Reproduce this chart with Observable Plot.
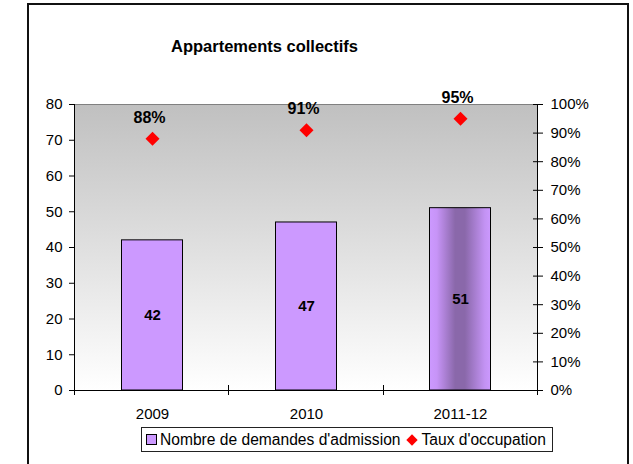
<!DOCTYPE html>
<html><head><meta charset="utf-8">
<script src="https://cdn.jsdelivr.net/npm/d3@7"></script>
<script src="https://cdn.jsdelivr.net/npm/@observablehq/plot@0.6"></script>
<style>
body{margin:0;background:#fff;font-family:"Liberation Sans",Arial,sans-serif;}
#wrap{position:relative;width:633px;height:464px;overflow:hidden;}
#border{position:absolute;left:27px;top:3px;width:598px;height:500px;border:2px solid #111;}
#chart{position:absolute;left:0;top:0;}
#legend{position:absolute;left:141px;top:427px;width:410px;height:23px;border:1px solid #222;background:#fff;
  display:flex;align-items:center;font-size:15.6px;color:#000;white-space:nowrap;}
.sq{display:inline-block;width:9px;height:9px;background:#cc99ff;border:1px solid #000;margin:0 3px 0 4px;}
.dm{display:inline-block;width:8px;height:8px;background:#ff0000;transform:rotate(45deg);margin:0 5px 0 8px;}
</style></head><body>
<div id="wrap"><div id="border"></div><div id="chart"></div><div id="legend"></div></div>
<script>
const title = "Appartements collectifs";
const categories = ["2009", "2010", "2011-12"];
const demandes = [42, 47, 51];
const taux = [88, 91, 95];
const leftTicks = [0, 10, 20, 30, 40, 50, 60, 70, 80];
const rightTicks = [0, 10, 20, 30, 40, 50, 60, 70, 80, 90, 100];
const seriesNames = ["Nombre de demandes d'admission", "Taux d'occupation"];

const LEFT_MAX = 80, RIGHT_MAX = 100;
const toLeft = v => v * LEFT_MAX / RIGHT_MAX;
const data = categories.map((c, i) => ({cat: c, demandes: demandes[i], taux: taux[i]}));

const svgNS = "http://www.w3.org/2000/svg";
function el(name, attrs) {
  const e = document.createElementNS(svgNS, name);
  for (const k in attrs) e.setAttribute(k, attrs[k]);
  return e;
}
function defsMark() {
  const g = el("g", {});
  const defs = el("defs", {});
  const bg = el("linearGradient", {id: "bgGrad", x1: 0, y1: 0, x2: 0, y2: 1});
  bg.appendChild(el("stop", {offset: "0", "stop-color": "#c0c0c0"}));
  bg.appendChild(el("stop", {offset: "1", "stop-color": "#ffffff"}));
  const bar = el("linearGradient", {id: "barGrad", x1: 0, y1: 0, x2: 1, y2: 0});
  [["0", "#cc99ff"], ["0.12", "#c794f7"], ["0.42", "#8a68aa"], ["0.58", "#8a68aa"], ["0.9", "#c292f2"], ["1", "#cc99ff"]]
    .forEach(([o, c]) => bar.appendChild(el("stop", {offset: o, "stop-color": c})));
  defs.appendChild(bg); defs.appendChild(bar); g.appendChild(defs);
  return g;
}
function axisLinesMark(index, scales, values, dim) {
  const g = el("g", {stroke: "#000", "stroke-width": 1, fill: "none"});
  const x0 = dim.marginLeft, x1 = dim.width - dim.marginRight;
  const y0 = dim.marginTop, y1 = dim.height - dim.marginBottom;
  g.appendChild(el("line", {x1: x0 + 0.5, x2: x0 + 0.5, y1: y0, y2: y1 + 5}));
  g.appendChild(el("line", {x1: x1 + 0.5, x2: x1 + 0.5, y1: y0, y2: y1 + 5}));
  const step = (x1 - x0) / categories.length;
  for (let i = 1; i < categories.length; i++) {
    const xx = Math.round(x0 + i * step) + 0.5;
    g.appendChild(el("line", {x1: xx, x2: xx, y1: y1 - 5, y2: y1 + 5}));
  }
  return g;
}

const chart = Plot.plot({
  width: 633, height: 464,
  marginLeft: 74, marginRight: 96, marginTop: 104, marginBottom: 74,
  style: {fontFamily: "Liberation Sans, Arial, sans-serif", fontSize: "15px", background: "transparent", color: "#000", overflow: "visible"},
  x: {domain: categories, padding: 0, label: null},
  y: {domain: [0, LEFT_MAX], label: null},
  color: {type: "identity"},
  marks: [
    defsMark,
    Plot.frame({fill: "url(#bgGrad)", stroke: "#808080"}),
    Plot.barY(data, {x: "cat", y: "demandes", fill: d => d.cat === "2011-12" ? "url(#barGrad)" : "#cc99ff",
      stroke: "#000", strokeWidth: 1, insetLeft: 46.5, insetRight: 46.5}),
    Plot.ruleY([0], {stroke: "#000"}),
    axisLinesMark,
    Plot.axisY(leftTicks, {anchor: "left", tickSize: 5, tickPadding: 7, fontSize: 15, label: null}),
    Plot.axisY(rightTicks.map(toLeft), {anchor: "right", tickSize: 10, dx: -5, fill: "none", label: null}),
    Plot.axisY(rightTicks.map(toLeft), {anchor: "right", tickSize: 0, tickPadding: 13, fontSize: 15, label: null,
      tickFormat: v => Math.round(v * RIGHT_MAX / LEFT_MAX) + "%"}),
    Plot.axisX({anchor: "bottom", tickSize: 0, tickPadding: 18, fontSize: 15, label: null}),
    Plot.text(data, {x: "cat", y: d => d.demandes / 2, text: d => String(d.demandes), fontWeight: "bold", fontSize: 15}),
    Plot.dot(data, {x: "cat", y: d => toLeft(d.taux), symbol: "diamond2", r: 6.3, fill: "#ff0000", stroke: "none"}),
    Plot.text(data, {x: "cat", y: d => toLeft(d.taux), text: d => d.taux + "%", dy: -21, dx: -3, fontWeight: "bold", fontSize: 16}),
    Plot.text([title], {frameAnchor: "top-left", dx: 190, dy: -64, text: d => d, fontWeight: "bold", fontSize: 16.5, textAnchor: "middle"})
  ]
});
document.getElementById("chart").appendChild(chart);

const legend = document.getElementById("legend");
legend.innerHTML = '<span class="sq"></span><span>' + seriesNames[0] + '</span><span class="dm"></span><span>' + seriesNames[1] + '</span>';
</script>
</body></html>
